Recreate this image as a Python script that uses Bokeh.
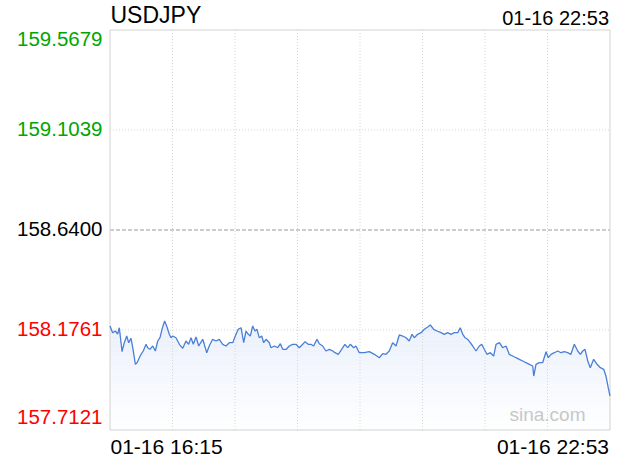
from bokeh.plotting import figure
from bokeh.models import Range1d, Label
from bokeh.embed import file_html
from bokeh.resources import INLINE
import numpy as np

# ---------------- data ----------------
SYMBOL = "USDJPY"
START_LABEL = "01-16 16:15"
END_LABEL = "01-16 22:53"
SPAN_MINUTES = 398  # 16:15 -> 22:53

Y_TICKS = [159.5679, 159.1039, 158.6400, 158.1761, 157.7121]
Y_TICK_LABELS = ["159.5679", "159.1039", "158.6400", "158.1761", "157.7121"]
Y_TICK_COLORS = ["#00a600", "#00a600", "#000000", "#ff0000", "#ff0000"]
PREV_CLOSE = 158.6400

minutes = [
    0, 2.1, 4.2, 6.1, 7.4, 9.6, 11.4, 13.3, 14.9, 16.7, 18.1, 20.2, 21.5, 22.8, 24.7, 26.5,
    28.7, 30.0, 31.8, 34.0, 36.1, 38.0, 39.8, 41.4, 43.5, 45.1, 47.2, 48.6, 49.9, 52.5, 55.2,
    57.9, 60.5, 62.6, 64.5, 66.3, 68.5, 70.6, 73.8, 77.0, 79.0, 81.7, 84.4, 87.0, 89.7, 92.3,
    95.0, 97.7, 100.3, 102.1, 104.3, 106.4, 108.3, 110.1, 111.7, 113.6, 115.4, 117.0, 118.8,
    120.8, 122.3, 124.2, 126.8, 128.2, 130.8, 133.5, 135.6, 137.5, 140.3, 142.7, 145.4, 148.1,
    150.7, 153.4, 155.2, 157.8, 160.0, 162.1, 164.8, 166.6, 169.3, 171.9, 174.6, 177.3, 179.1,
    181.7, 184.4, 187.0, 189.2, 191.3, 194.0, 195.8, 198.4, 202.4, 206.4, 210.4, 214.4, 217.1,
    219.7, 222.3, 225.0, 227.7, 230.3, 233.0, 235.6, 238.2, 240.4, 242.2, 244.9, 247.6, 250.2,
    252.9, 255.0, 257.7, 260.3, 263.5, 266.1, 268.8, 271.4, 274.1, 276.8, 278.8, 280.8, 282.6,
    284.7, 286.8, 288.7, 291.3, 294.0, 295.9, 297.9, 300.1, 302.7, 305.4, 307.3, 309.9, 312.6,
    315.2, 317.8, 320.5, 323.2, 325.8, 328.5, 331.1, 333.8, 336.5, 337.3, 339.1, 341.7, 344.4,
    347.1, 348.9, 351.0, 353.7, 356.4, 359.0, 361.6, 364.3, 366.9, 369.6, 372.3, 374.4, 376.3,
    378.1, 380.3, 382.3, 385.0, 387.7, 390.3, 393.0, 394.8, 396.6, 398.0,
]
prices = [
    158.1946, 158.1635, 158.1714, 158.1575, 158.1867, 158.0754, 158.1171, 158.1482, 158.1171,
    158.1375, 158.0939, 158.0169, 158.0243, 158.0401, 158.0633, 158.0786, 158.1097, 158.0939,
    158.0865, 158.1018, 158.0786, 158.1250, 158.1403, 158.1793, 158.2178, 158.1946, 158.1561,
    158.1403, 158.1482, 158.1403, 158.1097, 158.0911, 158.1250, 158.1097, 158.1403, 158.1097,
    158.1436, 158.1018, 158.1329, 158.0707, 158.1018, 158.1329, 158.1250, 158.1329, 158.1097,
    158.1018, 158.1171, 158.1171, 158.1561, 158.1793, 158.1867, 158.1171, 158.1714, 158.1561,
    158.1482, 158.1946, 158.1714, 158.1793, 158.1403, 158.1482, 158.1171, 158.1329, 158.1171,
    158.0939, 158.1018, 158.0939, 158.1125, 158.0865, 158.0865, 158.1018, 158.1097, 158.1097,
    158.0939, 158.1097, 158.1218, 158.1097, 158.1097, 158.1018, 158.1329, 158.1125, 158.1018,
    158.0786, 158.0865, 158.0786, 158.0707, 158.0633, 158.0865, 158.1097, 158.0939, 158.1097,
    158.0939, 158.1018, 158.0707, 158.0707, 158.0754, 158.0633, 158.0475, 158.0661, 158.0633,
    158.0786, 158.1171, 158.1018, 158.1529, 158.1482, 158.1403, 158.1250, 158.1561, 158.1403,
    158.1561, 158.1635, 158.1793, 158.1900, 158.1992, 158.1793, 158.1714, 158.1635, 158.1561,
    158.1635, 158.1561, 158.1635, 158.1635, 158.1867, 158.1561, 158.1403, 158.1329, 158.1171,
    158.1018, 158.0786, 158.1018, 158.1097, 158.0865, 158.0633, 158.0707, 158.0554, 158.1097,
    158.1171, 158.0939, 158.1018, 158.0633, 158.0554, 158.0475, 158.0401, 158.0322, 158.0243,
    158.0169, 158.0090, 157.9626, 158.0169, 158.0243, 158.0243, 158.0754, 158.0475, 158.0633,
    158.0707, 158.0786, 158.0707, 158.0754, 158.0707, 158.0633, 158.1097, 158.0786, 158.0633,
    158.0786, 158.0865, 158.0322, 158.0011, 158.0401, 158.0169, 158.0011, 157.9937, 157.9626,
    157.9083, 157.8698,
]

# ---------------- geometry (canvas covers the whole window) ----------------
W, H = 620, 460
PLOT_L, PLOT_R, PLOT_T, PLOT_B = 109.5, 609.5, 29.5, 429.5
Y_MAX = Y_TICKS[0]
Y_MIN = Y_TICKS[-1]
PX_X = SPAN_MINUTES / (PLOT_R - PLOT_L)
PX_Y = (Y_MAX - Y_MIN) / (PLOT_B - PLOT_T)


def x_at(px):
    return (px - PLOT_L) * PX_X


def y_at(py):
    return Y_MAX - (py - PLOT_T) * PX_Y


p = figure(width=W, height=H, output_backend="svg", toolbar_location=None,
           x_range=Range1d(x_at(0), x_at(W)), y_range=Range1d(y_at(H), y_at(0)),
           min_border=0, min_border_left=0, min_border_right=0,
           min_border_top=0, min_border_bottom=0, title=None)
p.xaxis.visible = False
p.yaxis.visible = False
p.grid.visible = False
p.outline_line_color = None
p.background_fill_color = "white"
p.border_fill_color = "white"

# gradient fill under the line, built from horizontal bands
xs = np.array(minutes)
ys = np.array(prices)
top_val = ys.max()
n_bands = 24
edges = np.linspace(Y_MIN, top_val, n_bands + 1)
c_top = np.array([234, 240, 251])
c_bot = np.array([255, 255, 255])
for i in range(n_bands):
    lo, hi = edges[i], edges[i + 1]
    t = (i + 0.5) / n_bands
    c = (c_bot + (c_top - c_bot) * t).astype(int)
    p.varea(x=xs, y1=np.full_like(ys, lo), y2=np.clip(ys, lo, hi),
            fill_color="#%02x%02x%02x" % tuple(c), fill_alpha=1.0)

# grid lines
vx = [SPAN_MINUTES * i / 8 for i in range(1, 8)]
p.segment(x0=vx, x1=vx, y0=[Y_MIN] * len(vx), y1=[Y_MAX] * len(vx),
          line_color="#d6d6d6", line_dash="1 2", line_width=1)
hy = [Y_TICKS[1], Y_TICKS[3]]
p.segment(x0=[0] * len(hy), x1=[SPAN_MINUTES] * len(hy), y0=hy, y1=hy,
          line_color="#d6d6d6", line_dash="1 2", line_width=1)
p.segment(x0=[0], x1=[SPAN_MINUTES], y0=[PREV_CLOSE], y1=[PREV_CLOSE],
          line_color="#9a9a9a", line_dash="4 2", line_width=1)

# plot box
p.quad(left=[0], right=[SPAN_MINUTES], bottom=[Y_MIN], top=[Y_MAX],
       fill_color=None, line_color="#d2d2d2", line_width=1)

p.line(xs, ys, line_color="#4a7fd6", line_width=1.3)

FONT = "Liberation Sans"


def add_label(x, y, text, size, color, align="left"):
    p.add_layout(Label(x=x, y=y, text=text, text_font=FONT, text_font_size=size,
                       text_color=color, text_align=align, text_baseline="middle"))


# y labels (vertical centres of the texts)
for v, t, c in zip(Y_TICKS, Y_TICK_LABELS, Y_TICK_COLORS):
    if v == Y_MAX:
        yy = y_at(38.5)
    elif v == Y_MIN:
        yy = y_at(416.5)
    else:
        yy = v + 1 * PX_Y
    add_label(x_at(102), yy, t, "20.5px", c, "right")

# header
add_label(x_at(110), y_at(14), SYMBOL, "23px", "#000000", "left")
add_label(x_at(608.5), y_at(17), END_LABEL, "20px", "#000000", "right")

# footer time labels
add_label(x_at(110), y_at(446), START_LABEL, "21px", "#000000", "left")
add_label(x_at(608.5), y_at(446), END_LABEL, "21px", "#000000", "right")

# watermark
add_label(x_at(585), y_at(413.5), "sina.com", "19px", "#c8c8c8", "right")

open("out.html", "w").write(file_html(p, INLINE))
